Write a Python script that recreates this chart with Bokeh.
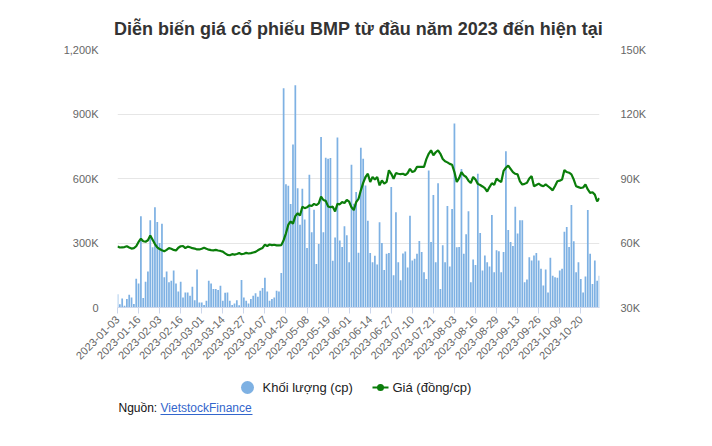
import math
from bokeh.plotting import figure
from bokeh.layouts import column
from bokeh.models import (Range1d, LinearAxis, FixedTicker, ColumnDataSource, Title)
from bokeh.core.properties import value
from bokeh.embed import file_html
from bokeh.resources import INLINE

title_text = "Diễn biến giá cổ phiếu BMP từ đầu năm 2023 đến hiện tại"
vol_label = "Khối lượng (cp)"
price_label = "Giá (đồng/cp)"
source_prefix = "Nguồn:"
source_name = "VietstockFinance"

dates = [
    "2023-01-03", "2023-01-04", "2023-01-05", "2023-01-06", "2023-01-09", "2023-01-10", "2023-01-11",
    "2023-01-12", "2023-01-13", "2023-01-16", "2023-01-17", "2023-01-18", "2023-01-19", "2023-01-27",
    "2023-01-30", "2023-01-31",
    "2023-02-01", "2023-02-02", "2023-02-03", "2023-02-06", "2023-02-07", "2023-02-08", "2023-02-09",
    "2023-02-10", "2023-02-13", "2023-02-14", "2023-02-15", "2023-02-16", "2023-02-17", "2023-02-20",
    "2023-02-21", "2023-02-22", "2023-02-23", "2023-02-24", "2023-02-27", "2023-02-28",
    "2023-03-01", "2023-03-02", "2023-03-03", "2023-03-06", "2023-03-07", "2023-03-08", "2023-03-09",
    "2023-03-10", "2023-03-13", "2023-03-14", "2023-03-15", "2023-03-16", "2023-03-17", "2023-03-20",
    "2023-03-21", "2023-03-22", "2023-03-23", "2023-03-24", "2023-03-27", "2023-03-28", "2023-03-29",
    "2023-03-30", "2023-03-31",
    "2023-04-03", "2023-04-04", "2023-04-05", "2023-04-06", "2023-04-07", "2023-04-10", "2023-04-11",
    "2023-04-12", "2023-04-13", "2023-04-14", "2023-04-17", "2023-04-18", "2023-04-19", "2023-04-20",
    "2023-04-21", "2023-04-24", "2023-04-25", "2023-04-26", "2023-04-27", "2023-04-28",
    "2023-05-04", "2023-05-05", "2023-05-08", "2023-05-09", "2023-05-10", "2023-05-11", "2023-05-12",
    "2023-05-15", "2023-05-16", "2023-05-17", "2023-05-18", "2023-05-19", "2023-05-22", "2023-05-23",
    "2023-05-24", "2023-05-25", "2023-05-26", "2023-05-29", "2023-05-30", "2023-05-31",
    "2023-06-01", "2023-06-02", "2023-06-05", "2023-06-06", "2023-06-07", "2023-06-08", "2023-06-09",
    "2023-06-12", "2023-06-13", "2023-06-14", "2023-06-15", "2023-06-16", "2023-06-19", "2023-06-20",
    "2023-06-21", "2023-06-22", "2023-06-23", "2023-06-26", "2023-06-27", "2023-06-28", "2023-06-29",
    "2023-06-30",
    "2023-07-03", "2023-07-04", "2023-07-05", "2023-07-06", "2023-07-07", "2023-07-10", "2023-07-11",
    "2023-07-12", "2023-07-13", "2023-07-14", "2023-07-17", "2023-07-18", "2023-07-19", "2023-07-20",
    "2023-07-21", "2023-07-24", "2023-07-25", "2023-07-26", "2023-07-27", "2023-07-28", "2023-07-31",
    "2023-08-01", "2023-08-02", "2023-08-03", "2023-08-04", "2023-08-07", "2023-08-08", "2023-08-09",
    "2023-08-10", "2023-08-11", "2023-08-14", "2023-08-15", "2023-08-16", "2023-08-17", "2023-08-18",
    "2023-08-21", "2023-08-22", "2023-08-23", "2023-08-24", "2023-08-25", "2023-08-28", "2023-08-29",
    "2023-08-30", "2023-08-31",
    "2023-09-05", "2023-09-06", "2023-09-07", "2023-09-08", "2023-09-11", "2023-09-12", "2023-09-13",
    "2023-09-14", "2023-09-15", "2023-09-18", "2023-09-19", "2023-09-20", "2023-09-21", "2023-09-22",
    "2023-09-25", "2023-09-26", "2023-09-27", "2023-09-28", "2023-09-29",
    "2023-10-02", "2023-10-03", "2023-10-04", "2023-10-05", "2023-10-06", "2023-10-09", "2023-10-10",
    "2023-10-11", "2023-10-12", "2023-10-13", "2023-10-16", "2023-10-17", "2023-10-18", "2023-10-19",
    "2023-10-20", "2023-10-23", "2023-10-24", "2023-10-25", "2023-10-26", "2023-10-27", "2023-10-30",
    "2023-10-31",
    "2023-11-01",
]

# trading volume, thousands of shares
volume_k = [
    62, 15, 42, 8, 39, 59, 47, 16, 134, 112,
    425, 44, 120, 167, 406, 280, 466, 398, 300, 390,
    141, 167, 117, 125, 172, 112, 75, 120, 47, 70,
    70, 55, 97, 34, 177, 23, 23, 12, 31, 125,
    112, 86, 86, 81, 101, 31, 69, 70, 31, 12,
    19, 34, 10, 128, 47, 31, 19, 39, 55, 66,
    50, 78, 91, 138, 75, 31, 39, 47, 78, 75,
    160, 1020, 573, 566, 481, 758, 1034, 555, 385, 552,
    409, 277, 617, 350, 455, 202, 295, 793, 350, 696,
    692, 695, 218, 326, 791, 312, 281, 378, 336, 211,
    664, 482, 537, 255, 743, 692, 567, 404, 253, 210,
    241, 200, 396, 300, 175, 250, 253, 560, 150, 443,
    210, 127, 251, 261, 186, 427, 219, 227, 250, 309,
    258, 164, 133, 637, 305, 523, 211, 578, 86, 289,
    211, 472, 191, 458, 856, 280, 281, 644, 250, 341,
    448, 117, 223, 198, 622, 347, 172, 242, 211, 191,
    430, 164, 266, 262, 164, 258, 727, 360, 305, 286,
    469, 344, 406, 406, 117, 130, 234, 219, 242, 253,
    219, 180, 102, 177, 70, 231, 148, 141, 138, 172,
    180, 352, 375, 281, 477, 308, 164, 211, 133, 70,
    144, 453, 250, 109, 219, 124, 148,
]

# closing price, thousand VND per share
price_k = [
    58.4, 57.9, 58.0, 58.1, 58.5, 57.9, 57.4, 57.6, 58.5, 60.5,
    62.0, 60.8, 60.6, 61.3, 63.5, 61.5, 59.5, 58.0, 57.2, 56.6,
    56.2, 56.8, 57.6, 57.3, 56.8, 56.5, 57.8, 58.5, 58.6, 57.6,
    58.3, 58.0, 57.6, 57.4, 57.0, 57.0, 57.3, 57.8, 57.3, 56.9,
    56.7, 56.6, 56.8, 56.5, 56.3, 56.0, 55.2, 54.5, 54.3, 54.8,
    54.6, 54.9, 55.3, 54.8, 55.0, 55.4, 55.1, 55.3, 55.6, 55.9,
    56.6, 57.2, 57.7, 59.2, 58.6, 59.3, 59.0, 59.2, 58.9, 58.9,
    59.0, 61.3, 64.5, 68.5, 70.0, 69.0, 72.5, 73.8, 72.8, 76.9,
    76.2, 76.6, 77.5, 77.2, 78.2, 77.6, 78.4, 81.6, 80.0, 79.6,
    77.0, 76.6, 76.9, 74.7, 78.2, 78.0, 79.0, 78.6, 80.0, 79.2,
    76.6, 75.3, 79.0, 80.5, 84.5, 88.0, 90.7, 92.2, 88.4, 90.7,
    89.5, 90.7, 86.8, 89.1, 87.6, 88.4, 93.8, 92.2, 89.9, 92.5,
    92.2, 92.0, 92.2, 91.6, 92.5, 94.5, 93.0, 93.5, 95.4, 95.4,
    95.4, 95.4, 99.0, 101.5, 103.1, 100.8, 102.2, 103.1, 101.5, 99.1,
    98.0, 97.5, 96.8, 96.4, 93.0, 88.4, 90.2, 93.0, 91.5, 90.7,
    89.0, 87.9, 90.7, 89.5, 87.5, 87.0, 86.3, 85.5, 83.9, 86.0,
    87.8, 87.0, 89.9, 89.0, 88.4, 93.5, 95.0, 96.0, 94.5, 93.0,
    92.2, 91.9, 88.7, 87.2, 87.5, 88.0, 90.0, 91.1, 86.4, 87.0,
    87.6, 86.8, 86.4, 87.3, 86.4, 85.5, 84.5, 86.5, 88.7, 89.0,
    89.5, 93.9, 93.0, 92.7, 91.9, 89.5, 86.4, 86.0, 85.6, 85.8,
    87.2, 84.9, 83.3, 83.6, 82.5, 79.4, 80.9,
]

vol_ticks = [0, 300, 600, 900, 1200]
vol_tick_labels = ["0", "300K", "600K", "900K", "1,200K"]
price_ticks = [30, 60, 90, 120, 150]
price_tick_labels = ["30K", "60K", "90K", "120K", "150K"]
date_label_step = 9

BAR_COLOR = "#7eb1e3"
LINE_COLOR = "#0a7d0a"
LINK_COLOR = "#3366cc"
FONT = "Liberation Sans"

x_idx = list(range(len(dates)))
src = ColumnDataSource(dict(x=x_idx, vol=volume_k, price=price_k, date=dates))

# main chart: frame x 117..599, y 49..307
FL, FR, FT, FB = 117, 599, 49, 307
W = 712
H1 = 372          # main figure height
H2 = 446 - H1     # legend/source strip height

p = figure(width=W, height=H1, output_backend="svg", toolbar_location=None,
           x_range=Range1d(0, len(dates) - 1), y_range=Range1d(0, 1200),
           min_border_left=FL, min_border_right=W - FR, min_border_top=FT,
           min_border_bottom=H1 - FB, background_fill_color="white",
           border_fill_color="white")
p.outline_line_color = None
p.xgrid.visible = False
p.ygrid.grid_line_color = "#e6e6e6"
p.ygrid.grid_line_width = 1

p.add_layout(Title(text=title_text, align="center", vertical_align="bottom",
                   text_font=FONT, text_font_style="bold",
                   text_font_size="18px", text_color="#333333", standoff=22, offset=-2), "above")

p.vbar(x="x", top="vol", width=0.74, source=src, fill_color=BAR_COLOR, line_color=None)

p.extra_y_ranges = {"price": Range1d(30, 150)}
p.line(x="x", y="price", source=src, y_range_name="price",
       line_color=LINE_COLOR, line_width=2.2)

yl = p.yaxis[0]
yl.ticker = FixedTicker(ticks=vol_ticks)
yl.major_label_overrides = {t: s for t, s in zip(vol_ticks, vol_tick_labels)}
yl.axis_line_color = None
yl.major_tick_line_color = None
yl.minor_tick_line_color = None
yl.major_label_standoff = 13
yl.major_label_text_font = FONT
yl.major_label_text_font_size = "11px"
yl.major_label_text_color = "#666666"

yr = LinearAxis(y_range_name="price", ticker=FixedTicker(ticks=price_ticks))
yr.major_label_overrides = {t: s for t, s in zip(price_ticks, price_tick_labels)}
yr.axis_line_color = None
yr.major_tick_line_color = None
yr.minor_tick_line_color = None
yr.major_label_standoff = 15
yr.major_label_text_font = FONT
yr.major_label_text_font_size = "11px"
yr.major_label_text_color = "#666666"
p.add_layout(yr, "right")

xa = p.xaxis[0]
tick_idx = x_idx[::date_label_step]
xa.ticker = FixedTicker(ticks=tick_idx)
xa.major_label_overrides = {i: dates[i] for i in tick_idx}
xa.major_label_orientation = math.pi / 4
xa.axis_line_color = "#ccd6eb"
xa.major_tick_line_color = "#ccd6eb"
xa.major_tick_in = 0
xa.major_tick_out = 6
xa.minor_tick_line_color = None
xa.major_label_standoff = 4
xa.major_label_text_font = FONT
xa.major_label_text_font_size = "11px"
xa.major_label_text_color = "#666666"

# strip below: legend and source. In a column the strip's frame is aligned with the
# chart's frame (x 117..599), so its x range is set to canvas pixels of that span.
q = figure(width=W, height=H2, output_backend="svg", toolbar_location=None,
           x_range=Range1d(FL, FR), y_range=Range1d(H2, 0),
           x_axis_location=None, y_axis_location=None,
           min_border_left=FL, min_border_right=W - FR, min_border_top=0, min_border_bottom=0,
           background_fill_color="white", border_fill_color="white")
q.grid.visible = False
q.outline_line_color = None

# legend (keys drawn in the strip's pixel space)
leg_y = 387 - H1
q.scatter(x=[247], y=[leg_y], marker="circle", size=13, fill_color=BAR_COLOR, line_color=None)
q.text(x=[262], y=[leg_y], text=[vol_label], text_align="left", text_baseline="middle",
       text_font=value(FONT), text_font_size="13px", text_color="#222222")
q.line(x=[372, 388], y=[leg_y, leg_y], line_color=LINE_COLOR, line_width=2.2)
q.scatter(x=[380], y=[leg_y], marker="circle", size=7, fill_color=LINE_COLOR, line_color=None)
q.text(x=[392], y=[leg_y], text=[price_label], text_align="left", text_baseline="middle",
       text_font=value(FONT), text_font_size="13px", text_color="#222222")

# source line
src_y = 407 - H1
q.text(x=[118], y=[src_y], text=[source_prefix], text_align="left", text_baseline="middle",
       text_font=value(FONT), text_font_size="12px", text_color="#111111")
q.text(x=[160], y=[src_y], text=[source_name], text_align="left", text_baseline="middle",
       text_font=value(FONT), text_font_size="12px", text_color=LINK_COLOR)
q.segment(x0=[160], y0=[src_y + 7], x1=[252], y1=[src_y + 7], line_color=LINK_COLOR, line_width=1)

layout = column(p, q, spacing=0)
open("out.html", "w").write(file_html(layout, INLINE))
